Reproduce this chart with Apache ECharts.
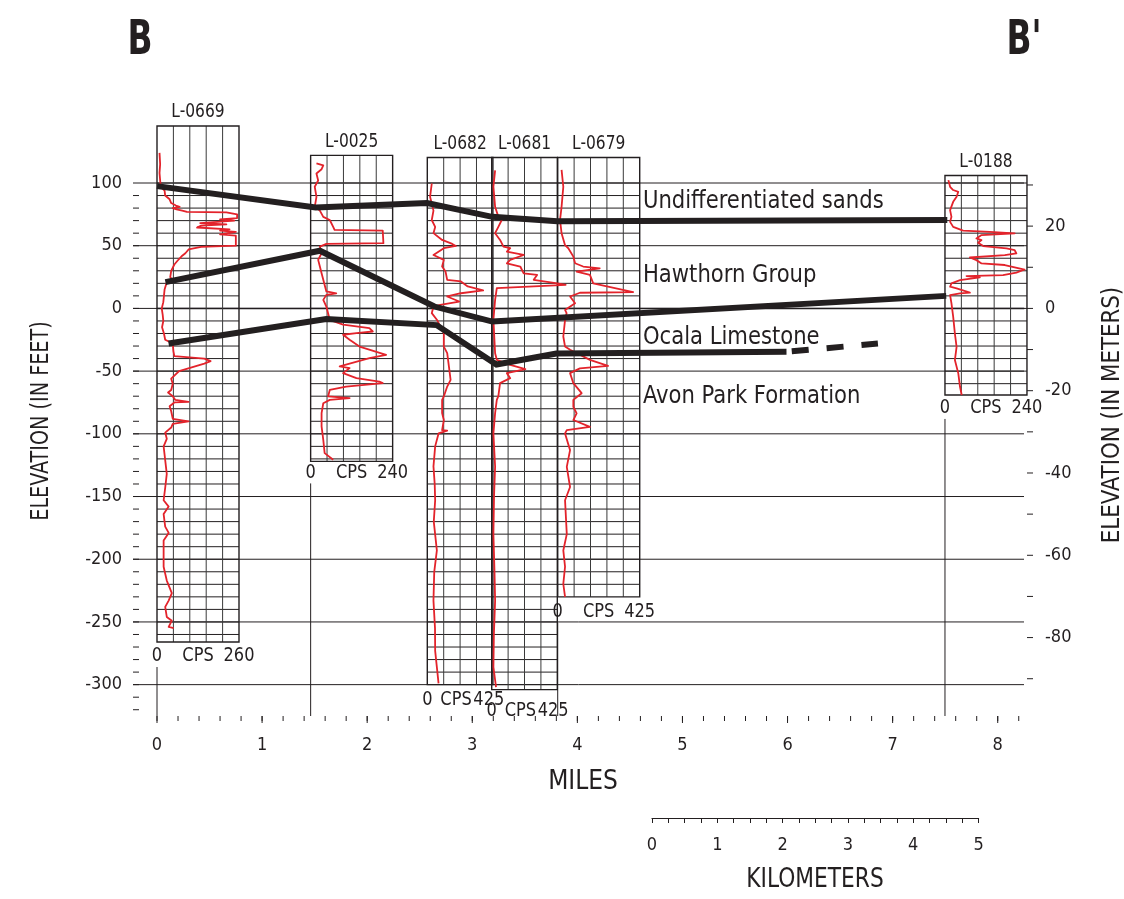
<!DOCTYPE html>
<html>
<head>
<meta charset="utf-8">
<script src="https://cdn.jsdelivr.net/npm/echarts@6/dist/echarts.min.js"></script>
<style>
  html, body { margin: 0; padding: 0; background: #ffffff; }
  #chart { width: 1124px; height: 899px; }
</style>
</head>
<body>
<div id="chart"></div>
<script>
// ---- Section B–B' : wells, gamma-ray logs and formation tops ----

// Well locations along the section (miles) and the depth span of each log box (feet, NGVD)
const wellNames   = ['L-0669', 'L-0025', 'L-0682', 'L-0681', 'L-0679', 'L-0188'];
const wellMiles   = [0.0, 1.462, 2.572, 3.185, 3.813, 7.498];
const wellTops    = [145.5, 122, 120.3, 120.3, 120.3, 106];
const wellBottoms = [-266, -122, -300, -304, -230, -69];
const wellCpsMax  = [260, 240, 425, 425, 425, 240];

// Gamma-ray logs: [elevation ft, counts per second]
const grL0669 = [[124,8],[115,10],[108,8],[102,10],[97,12],[94,24],[90,26],[87,40],[84,45],[82,60],[81,72],[80,50],[79,62],[78,80],[77,95],[76.5,220],[75,254],[72,254],[71,200],[70,245],[68,137],[67,220],[66,140],[64.5,127],[63,230],[62,200],[61,250],[59,200],[58,250],[50,250],[49,140],[47,100],[44,90],[42,80],[38,65],[35,55],[30,45],[25,42],[22,50],[20,30],[15,24],[10,22],[5,20],[0,15],[-5,18],[-10,20],[-15,16],[-20,22],[-25,26],[-28,50],[-34,52],[-38,55],[-40,150],[-42,170],[-44,150],[-47,110],[-50,70],[-56,45],[-60,50],[-65,45],[-67,35],[-70,50],[-73,58],[-74.5,100],[-75,55],[-78,40],[-82,45],[-88,50],[-90,100],[-92,50],[-95,45],[-99,26],[-104,31],[-110,21],[-121,26],[-132,31],[-143,26],[-153,21],[-158,37],[-164,21],[-174,26],[-179,37],[-185,21],[-195,21],[-206,21],[-217,31],[-227,47],[-233,37],[-238,26],[-246,31],[-249,47],[-254,37],[-255,53]];
const grL0025 = [[115.6,17],[114,37],[111,32],[107.6,17],[102,22],[97,12],[89,17],[81,12],[78,27],[73,37],[70.5,56],[65,66],[62.6,70],[62,211],[52,213],[51.5,46],[49.3,27],[44,32],[38.7,22],[33.4,27],[28,32],[22.8,37],[13.5,46],[12,75],[10.8,46],[6.8,37],[1.5,46],[-3.8,51],[-9.1,56],[-13,95],[-15.7,172],[-18.4,182],[-19.7,134],[-21,95],[-25,114],[-30.4,143],[-37,221],[-39.6,172],[-46.3,85],[-47.6,114],[-51.6,95],[-55.6,134],[-58.3,201],[-59.6,211],[-62.3,104],[-65,56],[-70.2,51],[-71.5,114],[-72.9,56],[-75.6,37],[-83.5,32],[-94,32],[-104.8,37],[-115.4,41],[-120.7,66]];
const grL0682 = [[99.6,29],[89,18],[78,40],[70.5,29],[65,51],[60,40],[54.6,96],[51.4,162],[49.8,185],[48,107],[42.6,40],[38.7,107],[33.4,96],[29.4,118],[22.8,129],[21.5,218],[17.5,262],[14.3,362],[12.1,218],[9.5,129],[5.5,207],[2.8,84],[1.5,40],[-3.8,29],[-9,62],[-19.7,107],[-30.4,107],[-35.7,129],[-46.3,140],[-57,151],[-62.3,129],[-70.2,107],[-73,96],[-83.5,96],[-89,107],[-97,96],[-97.5,129],[-99.7,73],[-110,51],[-126,40],[-140,48],[-153,51],[-170,42],[-193,62],[-210,45],[-233,40],[-255,50],[-273,51],[-286,62],[-299,73]];
const grL0681 = [[110,22],[97,11],[81,22],[73,43],[70.5,65],[65,43],[60,22],[54.6,54],[49.3,76],[48,120],[45.3,98],[42.6,207],[38.7,120],[36,98],[33.4,185],[28,207],[26.7,294],[22.8,272],[20,425],[18.8,479],[16.1,33],[6.8,22],[-9,11],[-35.7,22],[-41,33],[-45,120],[-48.4,218],[-51.6,98],[-55.6,120],[-59.6,54],[-70,43],[-73,33],[-83.5,22],[-99.7,11],[-126,22],[-150,15],[-180,11],[-210,18],[-233,22],[-260,14],[-286,11],[-302,28]];
const grL0679 = [[110.4,20],[97,29],[81,20],[70.5,12],[60,20],[50.4,38],[48,55],[41.3,81],[36,90],[33.4,132],[32,218],[29.4,98],[26.7,167],[20,184],[13,391],[12.5,115],[9.5,64],[4.1,90],[-1.2,38],[-3.8,46],[-9.1,38],[-22.4,29],[-30.4,38],[-33,64],[-41,167],[-45.9,261],[-47.8,115],[-51.6,64],[-59.6,81],[-67.6,124],[-72.9,81],[-78.4,81],[-83.7,98],[-89,81],[-94.4,167],[-97,47],[-99.7,38],[-113,64],[-126.4,47],[-142.4,64],[-153,38],[-180,47],[-193,29],[-206,38],[-219.6,29],[-230,38]];
const grL0188 = [[102.3,10],[97,15],[94.4,24],[93,39],[89,34],[85,24],[78.4,15],[73,19],[69,15],[65,24],[62,53],[61,131],[59.8,204],[58.5,107],[55.8,92],[54.5,107],[52.4,97],[49.7,112],[47.8,180],[46.5,204],[43.8,209],[42.5,175],[40.6,73],[38.5,92],[35.9,107],[34.6,175],[31,233],[28.5,209],[26.6,170],[25.8,63],[24.8,102],[22.6,44],[20,19],[17.3,15],[16,34],[12.6,73],[12,44],[10.6,15],[4,19],[-6.6,24],[-20,29],[-30.6,34],[-41.2,29],[-51.8,39],[-62.5,44],[-69,49]];
const gammaLogs = [grL0669, grL0025, grL0682, grL0681, grL0679, grL0188];

// Formation boundaries: [miles, elevation ft]
const baseUndifferentiated = [[0.0,97.5],[1.51,80.5],[2.57,84],[3.19,73],[3.81,69.5],[7.52,70.5]];
const baseHawthorn         = [[0.08,21],[1.55,46],[2.64,1.5],[3.19,-10.5],[7.51,10]];
const baseOcala            = [[0.11,-28],[1.61,-8.5],[2.66,-13.3],[3.23,-44.7],[3.8,-36],[5.99,-34.6]];
const baseOcalaInferred    = [[6.04,-34.2],[6.86,-28]];

const formationNames = ['Undifferentiated sands', 'Hawthorn Group', 'Ocala Limestone', 'Avon Park Formation'];

// Axis ticks and labels
const ftLabels   = [-300, -250, -200, -150, -100, -50, 0, 50, 100];
const ftTicks    = [-320,-310,-300,-290,-280,-270,-260,-250,-240,-230,-220,-210,-200,-190,-180,-170,-160,-150,-140,-130,-120,-110,-100,-90,-80,-70,-60,-50,-40,-30,-20,-10,0,10,20,30,40,50,60,70,80,90];
const mLabels    = [-80, -60, -40, -20, 0, 20];
const mTicks     = [-90, -80, -70, -60, -50, -40, -30, -20, -10, 0, 10, 20, 30];
const mileLabels = [0, 1, 2, 3, 4, 5, 6, 7, 8];
const mileMinor  = [0,0.2,0.4,0.6,0.8,1,1.2,1.4,1.6,1.8,2,2.2,2.4,2.6,2.8,3,3.2,3.4,3.6,3.8,4,4.2,4.4,4.6,4.8,5,5.2,5.4,5.6,5.8,6,6.2,6.4,6.6,6.8,7,7.2,7.4,7.6,7.8,8,8.2];
const kmLabels   = [0, 1, 2, 3, 4, 5];
const kmTicks    = [0,0.25,0.5,0.75,1,1.25,1.5,1.75,2,2.25,2.5,2.75,3,3.25,3.5,3.75,4,4.25,4.5,4.75,5];

// ---- layout & style ----
const FONT = "'DejaVu Sans Condensed', 'Liberation Sans Narrow', sans-serif";
const INK = '#231f20';
const RED = '#e3232b';
const Y_MIN = -325, Y_MAX = 100, X_MIN = 0, X_MAX = 8.25;
const FT_PER_M = 3.28084;
const MI_PER_KM = 0.621371;
const COL_W = 16.4;                           // width of one log-grid column, px
const wellColumns   = [5, 5, 4, 4, 5, 5];
const cpsLabelDrop  = [14, 11, 15, 21, 15, 13];
const formationAnchor = [[4.624, 85.6], [4.624, 26.6], [4.624, -22.9], [4.624, -70.6]];

function txt(text, x, y, size, align, sx, weight) {
  return {
    type: 'text', x: x, y: y, scaleX: sx || 1, silent: true,
    style: { text: text, fill: INK, font: (weight || 'normal') + ' ' + size + 'px ' + FONT,
             textAlign: align || 'center', textVerticalAlign: 'middle' }
  };
}

function seg(x1, y1, x2, y2, w) {
  return { type: 'line', shape: { x1: x1, y1: y1, x2: x2, y2: y2 }, style: { stroke: INK, lineWidth: w || 1 } };
}

// Elevation grid lines (running out over the tick column) plus tick marks on all three main scales
function renderGridLines(params, api) {
  const children = [];
  ftLabels.forEach(function (v) {
    const a = api.coord([X_MIN, v]), b = api.coord([X_MAX, v]);
    children.push(seg(a[0] - 24, a[1], b[0], b[1]));
  });
  ftTicks.forEach(function (v) {
    const a = api.coord([X_MIN, v]);
    children.push(seg(a[0] - 24, a[1], a[0] - 18, a[1]));
  });
  mTicks.forEach(function (m) {
    const b = api.coord([X_MAX, m * FT_PER_M]);
    children.push(seg(b[0] + 3, b[1], b[0] + 9, b[1]));
  });
  mileMinor.forEach(function (d) {
    const p = api.coord([d, Y_MIN]);
    children.push(seg(p[0], p[1], p[0], p[1] + 5));
  });
  mileLabels.forEach(function (d) {
    const p = api.coord([d, Y_MIN]);
    children.push(seg(p[0], p[1], p[0], p[1] + 7));
  });
  return { type: 'group', children: children };
}

function renderWell(params, api) {
  const i = params.dataIndex;
  const top = api.coord([wellMiles[i], wellTops[i]]);
  const bot = api.coord([wellMiles[i], wellBottoms[i]]);
  const x0 = top[0], yTop = top[1], yBot = bot[1];
  const w = wellColumns[i] * COL_W;
  const children = [];
  // 10-ft rules inside the log box, from the 100-ft datum down
  for (let e = Math.floor(Math.min(wellTops[i], Y_MAX) / 10) * 10; e > wellBottoms[i]; e -= 10) {
    const y = api.coord([wellMiles[i], e])[1];
    children.push(seg(x0, y, x0 + w, y));
  }
  for (let c = 1; c < wellColumns[i]; c++) {
    const x = x0 + c * COL_W;
    children.push({ type: 'line', shape: { x1: x, y1: yTop, x2: x, y2: yBot },
                    style: { stroke: '#3a3a3a', lineWidth: 1 } });
  }
  children.push({ type: 'rect', shape: { x: x0, y: yTop, width: w, height: yBot - yTop },
                  style: { fill: 'none', stroke: INK, lineWidth: 1.4 } });
  children.push(txt(wellNames[i], x0 + w / 2, yTop - 14, 20, 'center', 0.86));
  // CPS scale caption; narrow boxes pull the caption slightly left so it stays readable
  const ly = yBot + cpsLabelDrop[i];
  const pull = Math.max(0, (82 - w) / 4);
  children.push(txt('0', x0, ly, 20, 'center', 0.9));
  children.push(txt('CPS', x0 + w / 2 - pull, ly, 20, 'center', 0.9));
  children.push(txt(String(wellCpsMax[i]), x0 + w - pull, ly, 20, 'center', 0.9));
  // well stem down to the distance axis
  const axisY = api.coord([wellMiles[i], Y_MIN])[1];
  if (ly + 11 < axisY - 20) {
    children.push(seg(x0, ly + 11, x0, axisY));
  }
  return { type: 'group', children: children };
}

function renderLog(params, api) {
  const i = params.dataIndex;
  const x0 = api.coord([wellMiles[i], 0])[0];
  const k = wellColumns[i] * COL_W / wellCpsMax[i];
  const pts = gammaLogs[i].map(function (d) {
    const p = api.coord([wellMiles[i], d[0]]);
    return [x0 + d[1] * k, p[1]];
  });
  return { type: 'polyline', shape: { points: pts },
           style: { stroke: RED, lineWidth: 1.8, fill: 'none', lineJoin: 'round' } };
}

function renderFormationLabel(params, api) {
  const i = params.dataIndex;
  const p = api.coord(formationAnchor[i]);
  return txt(formationNames[i], p[0], p[1], 25, 'left', 0.94);
}

function horizon(data, dashed) {
  return {
    type: 'line', xAxisIndex: 0, yAxisIndex: 0, data: data, symbol: 'none', silent: true,
    z: 5, clip: false,
    lineStyle: { color: INK, width: 6, join: 'miter', cap: 'butt', type: dashed ? [17, 18] : 'solid' }
  };
}

const axisFont = { fontFamily: FONT, fontSize: 18, color: INK };
const tickStyle = { color: INK, width: 1 };

function titleText(text, x, y, size, sx, rot, weight) {
  return { type: 'text', x: x, y: y, rotation: rot || 0, scaleX: sx, silent: true,
           style: { text: text, font: (weight || 'normal') + ' ' + size + 'px ' + FONT, fill: INK,
                    textAlign: 'center', textVerticalAlign: 'middle' } };
}

const option = {
  animation: false,
  backgroundColor: '#ffffff',
  grid: [
    { left: 157, right: 100, top: 183, bottom: 183 },
    { left: 652, width: 5 * MI_PER_KM * 105.1, top: 790, height: 28 }
  ],
  xAxis: [
    { gridIndex: 0, type: 'value', min: X_MIN, max: X_MAX, position: 'bottom',
      axisLine: { show: true, lineStyle: { color: INK, width: 1.3 } },
      axisTick: { show: false },
      axisLabel: Object.assign({ customValues: mileLabels, margin: 20 }, axisFont),
      splitLine: { show: false } },
    { gridIndex: 1, type: 'value', min: 0, max: 5, position: 'bottom',
      axisLine: { show: true, lineStyle: { color: INK, width: 1.2 } },
      axisTick: { show: true, customValues: kmTicks, length: 5, lineStyle: tickStyle },
      axisLabel: Object.assign({ customValues: kmLabels, margin: 18 }, axisFont),
      splitLine: { show: false } }
  ],
  yAxis: [
    { gridIndex: 0, type: 'value', min: Y_MIN, max: Y_MAX, position: 'left', offset: 18,
      axisLine: { show: false }, axisTick: { show: false },
      axisLabel: Object.assign({ customValues: ftLabels, margin: 17 }, axisFont),
      splitLine: { show: false } },
    { gridIndex: 0, type: 'value', min: Y_MIN / FT_PER_M, max: Y_MAX / FT_PER_M, position: 'right', offset: 3,
      axisLine: { show: false }, axisTick: { show: false },
      axisLabel: Object.assign({ customValues: mLabels, margin: 18 }, axisFont),
      splitLine: { show: false } },
    { gridIndex: 1, type: 'value', min: 0, max: 1, show: false }
  ],
  graphic: [
    titleText('B', 140, 42, 48, 0.76, 0, 'bold'),
    titleText("B'", 1024, 42, 48, 0.76, 0, 'bold'),
    titleText('ELEVATION (IN FEET)', 42, 421, 24, 0.89, Math.PI / 2),
    titleText('ELEVATION (IN METERS)', 1113, 415, 24, 0.99, Math.PI / 2),
    titleText('MILES', 583, 782, 26, 1),
    titleText('KILOMETERS', 815, 880, 26, 0.93)
  ],
  series: [
    { type: 'custom', name: 'elevation grid', xAxisIndex: 0, yAxisIndex: 0, silent: true, z: 1,
      renderItem: renderGridLines, data: [[0, 0]] },
    { type: 'custom', name: 'log boxes', xAxisIndex: 0, yAxisIndex: 0, silent: true, z: 2,
      renderItem: renderWell, data: wellNames.map(function (n, i) { return [wellMiles[i], wellTops[i]]; }) },
    { type: 'custom', name: 'gamma logs', xAxisIndex: 0, yAxisIndex: 0, silent: true, z: 3,
      renderItem: renderLog, data: wellNames.map(function (n, i) { return [wellMiles[i], wellTops[i]]; }) },
    horizon(baseUndifferentiated, false),
    horizon(baseHawthorn, false),
    horizon(baseOcala, false),
    horizon(baseOcalaInferred, true),
    { type: 'custom', name: 'formations', xAxisIndex: 0, yAxisIndex: 0, silent: true, z: 6,
      renderItem: renderFormationLabel, data: formationAnchor }
  ]
};

const chart = echarts.init(document.getElementById('chart'), null, { renderer: 'canvas' });
chart.setOption(option);
</script>
</body>
</html>
